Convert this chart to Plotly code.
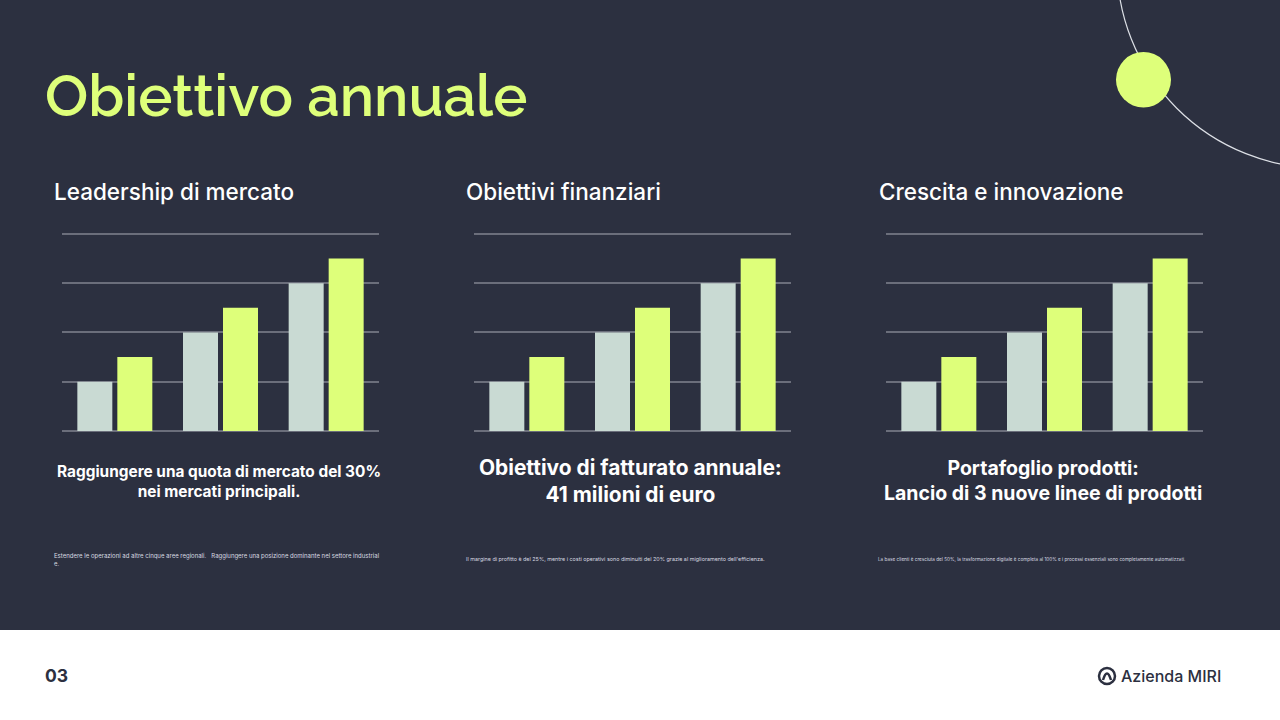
import plotly.graph_objects as go

W, H = 1280, 720
BG = "#2C3040"
YELLOW = "#DEFF7A"
GREY = "#C9DAD3"
GRID = "#6B6E7B"

categories = ["A", "B", "C"]
series_grey = [1, 2, 3]
series_yellow = [1.5, 2.5, 3.5]

headings = ["Leadership di mercato", "Obiettivi finanziari", "Crescita e innovazione"]
captions = [
    "Raggiungere una quota di mercato del 30%<br>nei mercati principali.",
    "Obiettivo di fatturato annuale:<br>41 milioni di euro",
    "Portafoglio prodotti:<br>Lancio di 3 nuove linee di prodotti",
]
notes = [
    "Estendere le operazioni ad altre cinque aree regionali.   Raggiungere una posizione dominante nel settore industrial<br>e.",
    "Il margine di profitto è del 25%, mentre i costi operativi sono diminuiti del 20% grazie al miglioramento dell'efficienza.",
    "La base clienti è cresciuta del 50%, la trasformazione digitale è completa al 100% e i processi essenziali sono completamente automatizzati.",
]

# posizioni in pixel dei tre blocchi
plot_left = [62, 474, 886]
plot_width = 317
head_x = [52.5, 464.5, 877.5]
head_y = 192
cap_x = [218.5, 630, 1043]
cap_size = [15.4, 20.9, 19.5]
cap_y = [481.5, 481.5, 481]
note_x = [52.5, 464.5, 876.5]
note_size = [6, 5.4, 4.65]
note_y = 559


def px(x):
    return x / W


def py(y):
    return 1 - y / H


fig = go.Figure()

for i in range(3):
    suffix = "" if i == 0 else str(i + 1)
    fig.add_trace(go.Bar(x=categories, y=series_grey, marker=dict(color=GREY, line_width=0),
                         xaxis="x" + suffix, yaxis="y" + suffix, showlegend=False))
    fig.add_trace(go.Bar(x=categories, y=series_yellow, marker=dict(color=YELLOW, line_width=0),
                         xaxis="x" + suffix, yaxis="y" + suffix, showlegend=False))
    fig.update_layout({
        "xaxis" + suffix: dict(domain=[px(plot_left[i]), px(plot_left[i] + plot_width)], anchor="y" + suffix,
                               showticklabels=False, ticks="", showline=False, showgrid=False, zeroline=False),
        # Plotly scarta la griglia a meno di 1 px dal bordo: lascio 2 px sopra il 4
        "yaxis" + suffix: dict(domain=[py(431), py(232)], anchor="x" + suffix, range=[0, 4.04], dtick=1,
                               showticklabels=False, ticks="", showline=False, showgrid=True,
                               gridcolor=GRID, gridwidth=1.5, zeroline=True, zerolinecolor=GRID, zerolinewidth=1.5),
    })

shapes = [
    # fascia bianca in basso
    dict(type="rect", xref="paper", yref="paper", x0=0, x1=1, y0=0, y1=py(630),
         fillcolor="white", line_width=0, layer="below"),
    # arco decorativo e cerchio
    dict(type="circle", xref="paper", yref="paper", x0=px(1117), x1=px(1525), y0=py(-240), y1=py(168),
         line=dict(color="#DDE0E6", width=1.2), fillcolor="rgba(0,0,0,0)"),
    dict(type="circle", xref="paper", yref="paper", x0=px(1116), x1=px(1171), y0=py(52), y1=py(107.5),
         fillcolor=YELLOW, line_width=0),
    # logo
    dict(type="circle", xref="paper", yref="paper", x0=px(1099), x1=px(1115), y0=py(668), y1=py(684),
         line=dict(color=BG, width=2.5), fillcolor="white"),
    dict(type="path", xref="paper", yref="paper", line=dict(color=BG, width=2.5),
         path=f"M {px(1103)} {py(680)} Q {px(1107)} {py(667)} {px(1111)} {py(680)}"),
]

annotations = [
    dict(text="Obiettivo annuale", x=px(44), y=py(96), font=dict(family="Raleway, Inter", size=57.5, color=YELLOW, weight=600),
         xanchor="left"),
    dict(text="03", x=px(43.5), y=py(675), font=dict(family="Inter", size=17.5, color=BG, weight=700), xanchor="left"),
    dict(text="Azienda MIRI", x=px(1119.5), y=py(676), font=dict(family="Inter", size=16, color=BG, weight=500),
         xanchor="left"),
]
for i in range(3):
    annotations.append(dict(text=headings[i], x=px(head_x[i]), y=py(head_y), xanchor="left",
                            font=dict(family="Inter", size=22.5, color="white", weight=500)))
    annotations.append(dict(text=captions[i], x=px(cap_x[i]), y=py(cap_y[i]), xanchor="center", align="center",
                            font=dict(family="Inter", size=cap_size[i], color="white", weight=700)))
    annotations.append(dict(text=notes[i], x=px(note_x[i]), y=py(note_y), xanchor="left", align="left",
                            font=dict(family="Inter", size=note_size[i], color="#D8DAE0")))

for a in annotations:
    a.update(xref="paper", yref="paper", yanchor="middle", showarrow=False, borderpad=0)

fig.update_layout(
    width=W, height=H, margin=dict(l=0, r=0, t=0, b=0),
    paper_bgcolor=BG, plot_bgcolor="rgba(0,0,0,0)",
    barmode="group", bargap=0.243, bargroupgap=0.125,
    shapes=shapes, annotations=annotations,
)

fig.write_html("out.html", config={"displayModeBar": False},
               post_script="document.body.style.margin='0';document.body.style.overflow='hidden';")
